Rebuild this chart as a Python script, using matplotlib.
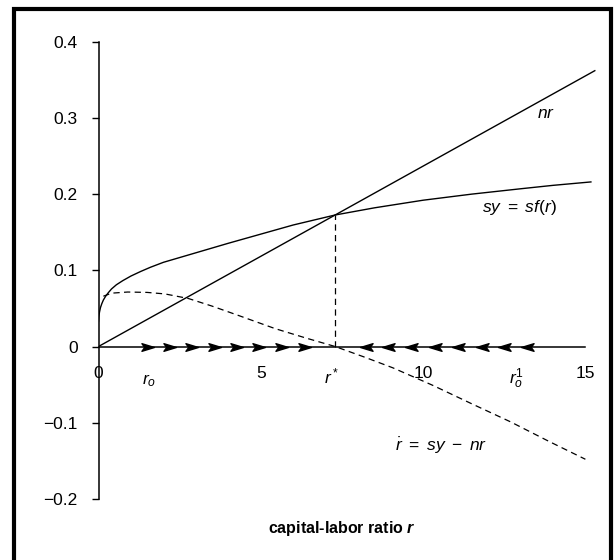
"""Solow growth diagram: savings curve, break-even line and the phase line for r."""

import matplotlib

matplotlib.use("Agg")
import matplotlib.pyplot as plt
from matplotlib.patches import Rectangle
from matplotlib.path import Path

plt.rcParams["font.family"] = ["Liberation Sans", "DejaVu Sans"]
plt.rcParams["mathtext.fontset"] = "custom"
plt.rcParams["mathtext.rm"] = "Liberation Sans"
plt.rcParams["mathtext.it"] = "Liberation Sans:italic"
plt.rcParams["mathtext.bf"] = "Liberation Sans:bold"
plt.rcParams["mathtext.bfit"] = "Liberation Sans:italic:bold"

# sy = sf(r)
r_sy = [0.0, 0.01, 0.03, 0.06, 0.1, 0.15, 0.22, 0.3, 0.4, 0.55, 0.75, 1.0, 1.3, 1.6, 2.0, 3.0, 4.0, 5.0,
        6.0, 7.29, 8.5, 10.0, 11.5, 13.0, 14.0, 15.17]
sy = [0.033, 0.039, 0.045, 0.051, 0.056, 0.061, 0.066, 0.0705, 0.0755, 0.081, 0.0865, 0.0925, 0.0985,
      0.104, 0.1105, 0.123, 0.1355, 0.1475, 0.1595, 0.1726, 0.182, 0.192, 0.200, 0.207, 0.2115, 0.216]

# nr
r_nr = [0.0, 15.29]
nr = [0.0, 0.362]

# r-dot = sy - nr
r_dot = [0.15, 0.4, 0.9, 1.5, 2.05, 2.77, 3.5, 4.23, 5.44, 6.4, 7.29, 8.2, 9.07, 10.3, 11.49, 12.7, 13.9, 15.0]
dot_vals = [0.066, 0.070, 0.0715, 0.071, 0.069, 0.063, 0.053, 0.042, 0.0235, 0.011, 0.0, -0.014, -0.028,
            -0.051, -0.075, -0.099, -0.125, -0.148]

# steady state
r_star = 7.29
sy_star = 0.1726

# direction of motion along the r axis
flow_right = [1.50, 2.17, 2.86, 3.56, 4.23, 4.91, 5.62, 6.34]
flow_left = [8.28, 8.94, 9.67, 10.39, 11.12, 11.85, 12.53, 13.24]

x_ticks = [0, 5, 10, 15]
y_ticks = [-0.2, -0.1, 0, 0.1, 0.2, 0.3, 0.4]
y_labels = ["\u22120.2", "\u22120.1", "0", "0.1", "0.2", "0.3", "0.4"]

W, H = 616, 560
fig = plt.figure(figsize=(W / 100, H / 100), dpi=100)
ax = fig.add_axes([98.5 / W, 40 / H, 501.5 / W, 490 / H])
ax.set_xlim(0, 15.45)
ax.set_ylim(-0.2277, 0.4154)

ax.plot(r_nr, nr, color="black", lw=1.0)
ax.plot(r_sy, sy, color="black", lw=1.0)
ax.plot(r_dot, dot_vals, color="black", lw=0.9, dashes=(5, 3.5))
ax.plot([r_star, r_star], [0, sy_star], color="black", lw=0.9, dashes=(5, 3.5))

head_r = Path([(1, 0), (-0.8, 0.55), (-0.4, 0), (-0.8, -0.55), (1, 0)],
              [Path.MOVETO, Path.LINETO, Path.LINETO, Path.LINETO, Path.CLOSEPOLY])
head_l = Path([(-1, 0), (0.8, 0.55), (0.4, 0), (0.8, -0.55), (-1, 0)],
              [Path.MOVETO, Path.LINETO, Path.LINETO, Path.LINETO, Path.CLOSEPOLY])
ax.plot(flow_right, [0] * len(flow_right), ls="none", marker=head_r, ms=10, color="black", zorder=4)
ax.plot(flow_left, [0] * len(flow_left), ls="none", marker=head_l, ms=10, color="black", zorder=4)

for side in ("top", "right"):
    ax.spines[side].set_visible(False)
ax.spines["bottom"].set_position(("data", 0))
ax.spines["bottom"].set_bounds(0, 15)
ax.spines["left"].set_bounds(-0.2, 0.4)
ax.spines["left"].set_linewidth(1.1)
ax.spines["bottom"].set_linewidth(1.1)

ax.set_yticks(y_ticks, y_labels, fontsize=12.5)
ax.tick_params(axis="y", direction="out", length=5, width=1.0, pad=10)
ax.set_xticks(x_ticks, [str(v) for v in x_ticks], fontsize=12.5)
ax.tick_params(axis="x", length=0, pad=14)

ax.text(13.8, 0.306, "$nr$", fontsize=12.5, ha="center", va="center")
ax.text(12.98, 0.183, "$sy\\ =\\ sf(r)$", fontsize=12.5, ha="center", va="center")
ax.text(10.55, -0.131, "$\\dot{r}\\ =\\ sy\\ -\\ nr$", fontsize=12.5, ha="center", va="center")
ax.text(1.56, -0.049, "$r_o$", fontsize=12.5, ha="center", va="baseline")
ax.text(7.18, -0.049, "$r^*$", fontsize=12.5, ha="center", va="baseline")
ax.text(12.88, -0.049, "$r_o^1$", fontsize=12.5, ha="center", va="baseline")

fig.text(342 / W, 1 - 528 / H, "capital-labor ratio $\\mathbfit{r}$", fontsize=11.5, fontweight="bold",
         ha="center", va="center")

# outer frame
fig.patches.append(Rectangle((14 / W, -0.02), 596.5 / W, 1 - 9 / H + 0.02, transform=fig.transFigure,
                             fill=False, edgecolor="black", lw=3))

fig.savefig("out.png", dpi=100)
